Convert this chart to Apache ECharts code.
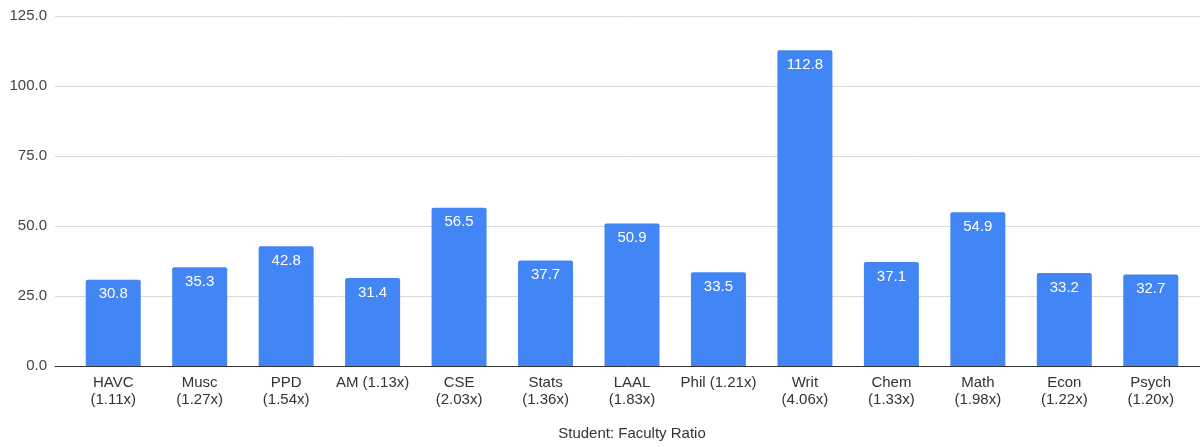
<!DOCTYPE html>
<html>
<head>
<meta charset="utf-8">
<script src="https://cdn.jsdelivr.net/npm/echarts@6/dist/echarts.min.js"></script>
<style>
  html, body { margin: 0; padding: 0; background: #fff; }
  #chart { width: 1200px; height: 447px; }
</style>
</head>
<body>
<div id="chart"></div>
<script>
const departments = [
  'HAVC\n(1.11x)', 'Musc\n(1.27x)', 'PPD\n(1.54x)', 'AM (1.13x)', 'CSE\n(2.03x)',
  'Stats\n(1.36x)', 'LAAL\n(1.83x)', 'Phil (1.21x)', 'Writ\n(4.06x)', 'Chem\n(1.33x)',
  'Math\n(1.98x)', 'Econ\n(1.22x)', 'Psych\n(1.20x)'
];
const ratios = [30.8, 35.3, 42.8, 31.4, 56.5, 37.7, 50.9, 33.5, 112.8, 37.1, 54.9, 33.2, 32.7];
const yTicks = [0, 25, 50, 75, 100, 125];

const FONT = 'Liberation Sans, Arial, sans-serif';
const yMin = yTicks[0], yMax = yTicks[yTicks.length - 1], yStep = yTicks[1] - yTicks[0];

const chart = echarts.init(document.getElementById('chart'));
chart.setOption({
  animation: false,
  textStyle: { fontFamily: FONT },
  grid: [
    // frame: gridlines, baseline and value labels span the full width
    { left: 55, right: 0, top: 16, bottom: 81 },
    // bars sit in a slightly inset band
    { left: 70, right: 6, top: 16, bottom: 81 }
  ],
  xAxis: [
    {
      gridIndex: 0, type: 'category', data: [''],
      axisLine: { show: true, lineStyle: { color: '#333', width: 1 } },
      axisTick: { show: false }, axisLabel: { show: false }
    },
    {
      gridIndex: 1, type: 'category', data: departments,
      axisLine: { show: false }, axisTick: { show: false },
      axisLabel: { color: '#333', fontSize: 15, fontFamily: FONT, lineHeight: 17, margin: 8, interval: 0 },
      name: 'Student: Faculty Ratio', nameLocation: 'middle', nameGap: 60,
      nameTextStyle: { color: '#333', fontSize: 15, fontFamily: FONT }
    }
  ],
  yAxis: [
    {
      gridIndex: 0, type: 'value', min: yMin, max: yMax, interval: yStep,
      axisLine: { show: false }, axisTick: { show: false },
      axisLabel: { color: '#444', fontSize: 15, fontFamily: FONT, margin: 8,
                   formatter: v => v.toFixed(1) },
      splitLine: { lineStyle: { color: '#d9d9d9', width: 1 } }
    },
    {
      gridIndex: 1, type: 'value', min: yMin, max: yMax, interval: yStep,
      axisLine: { show: false }, axisTick: { show: false },
      axisLabel: { show: false }, splitLine: { show: false }
    }
  ],
  series: [{
    type: 'bar',
    xAxisIndex: 1, yAxisIndex: 1,
    data: ratios,
    barWidth: 55,
    itemStyle: { color: '#4285F4', borderRadius: [2, 2, 0, 0] },
    label: {
      show: true, position: 'insideTop', distance: 7,
      color: '#fff', fontSize: 15, fontFamily: FONT,
      formatter: p => p.value.toFixed(1)
    }
  }]
});
</script>
</body>
</html>
